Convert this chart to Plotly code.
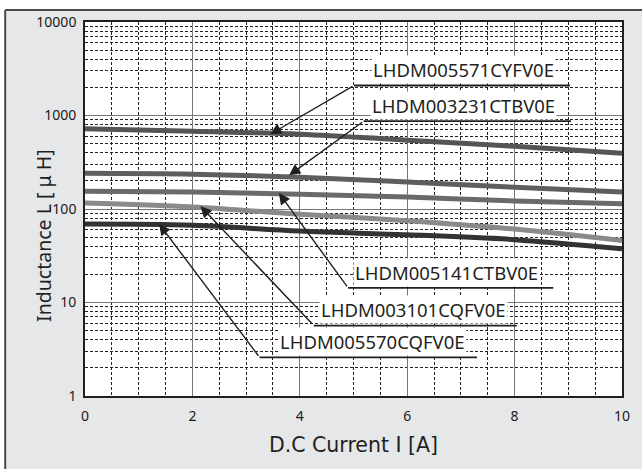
import plotly.graph_objects as go

current = [0, 2, 4, 6, 8, 10]
names = ["LHDM005571CYFV0E", "LHDM003231CTBV0E", "LHDM005141CTBV0E",
         "LHDM003101CQFV0E", "LHDM005570CQFV0E"]
L_571 = [720, 678, 632, 545, 468, 395]
L_231 = [241, 236, 219, 194, 171, 152]
L_141 = [155, 152, 144, 134, 122, 114]
L_101 = [116, 105, 88, 75, 61, 46]
L_570 = [69, 67, 58, 53, 47, 37.5]
series = [L_571, L_231, L_141, L_101, L_570]
colors = ["#555555", "#5e5e5e", "#6a6a6a", "#8a8a8a", "#333333"]

ytick_vals = [1, 10, 100, 1000, 10000]
ytick_text = ["1", "10", "100", "1000", "10000"]
xtick_vals = [0, 2, 4, 6, 8, 10]

# label layout: (text x, underline x0, x1, underline log-y, arrow tip x, tip log-y)
labels = [
    (7.05, 5.01, 9.03, 3.321, 3.45, 2.80),
    (7.05, 5.19, 9.05, 2.939, 3.80, 2.36),
    (6.74, 4.90, 8.72, 1.156, 3.61, 2.17),
    (6.12, 4.26, 8.04, 0.753, 2.15, 2.03),
    (5.36, 3.25, 7.30, 0.414, 1.38, 1.84),
]

FONT = "Noto Sans"
fig = go.Figure()
for name, vals, col in zip(names, series, colors):
    fig.add_trace(go.Scatter(x=current, y=vals, mode="lines", name=name,
                             line=dict(color=col, width=5, shape="spline"),
                             showlegend=False, hoverinfo="skip"))

annotations = []
shapes = []
for name, (tx, ux0, ux1, uy, px, py) in zip(names, labels):
    annotations.append(dict(x=tx, y=uy + 0.014, xref="x", yref="y", text=name,
                            showarrow=False, yanchor="bottom",
                            font=dict(family=FONT, size=18.5, color="#231f20"),
                            bgcolor="white", borderpad=1))
    shapes.append(dict(type="line", xref="x", yref="y", x0=ux0, x1=ux1,
                       y0=10 ** uy, y1=10 ** uy, line=dict(color="#231f20", width=1.8)))
    annotations.append(dict(x=px, y=py, xref="x", yref="y", ax=ux0, ay=uy,
                            axref="x", ayref="y", text="", showarrow=True,
                            arrowhead=2, arrowsize=1.6, arrowwidth=1.4,
                            arrowcolor="#231f20", standoff=0))

# y axis title
annotations.append(dict(x=-0.106, y=0.427, xref="paper", yref="paper",
                        text="Inductance L [ μ H]", textangle=-90, showarrow=False,
                        font=dict(family=FONT, size=19.5, color="#231f20")))

# outer frame: white strips above/left and dark border
shapes += [
    dict(type="rect", xref="paper", yref="paper", x0=-0.2, x1=-0.1486, y0=-0.3, y1=1.1,
         fillcolor="white", line=dict(width=0), layer="above"),
    dict(type="rect", xref="paper", yref="paper", x0=-0.2, x1=1.1, y0=1.0318, y1=1.1,
         fillcolor="white", line=dict(width=0), layer="above"),
    dict(type="line", xref="paper", yref="paper", x0=-0.1486, x1=-0.1486, y0=-0.3, y1=1.0318,
         line=dict(color="#4a4a4a", width=2)),
    dict(type="line", xref="paper", yref="paper", x0=-0.1486, x1=1.1, y0=1.0318, y1=1.0318,
         line=dict(color="#4a4a4a", width=2)),
]

fig.update_layout(
    width=642, height=469,
    margin=dict(l=85, r=12, t=19, b=73),
    paper_bgcolor="#e6e7e8", plot_bgcolor="white",
    font=dict(family=FONT, color="#231f20"),
    annotations=annotations, shapes=shapes,
)
fig.update_xaxes(range=[0, 10], tickvals=xtick_vals, ticks="", ticklabelstandoff=6,
                 showline=True, mirror=True, linecolor="#231f20", linewidth=1.6,
                 showgrid=True, gridcolor="#777777", gridwidth=1.3,
                 minor=dict(dtick=0.5, showgrid=True, gridcolor="#222222",
                            griddash="3px,2px", gridwidth=1),
                 tickfont=dict(family=FONT, size=14, color="#1a1a1a"),
                 title=dict(text="D.C Current I [A]",
                            font=dict(family="DejaVu Sans", size=20.5), standoff=14),
                 zeroline=False)
fig.update_yaxes(type="log", range=[0, 4], tickvals=ytick_vals, ticktext=ytick_text,
                 ticks="", ticklabelstandoff=4,
                 showline=True, mirror=True, linecolor="#231f20", linewidth=1.6,
                 showgrid=True, gridcolor="#777777", gridwidth=1.3,
                 minor=dict(dtick="D1", showgrid=True, gridcolor="#222222",
                            griddash="3px,2px", gridwidth=1),
                 tickfont=dict(family=FONT, size=14, color="#1a1a1a"),
                 zeroline=False)

fig.write_html("out.html", config={"displayModeBar": False},
               post_script="document.body.style.margin='0';")
